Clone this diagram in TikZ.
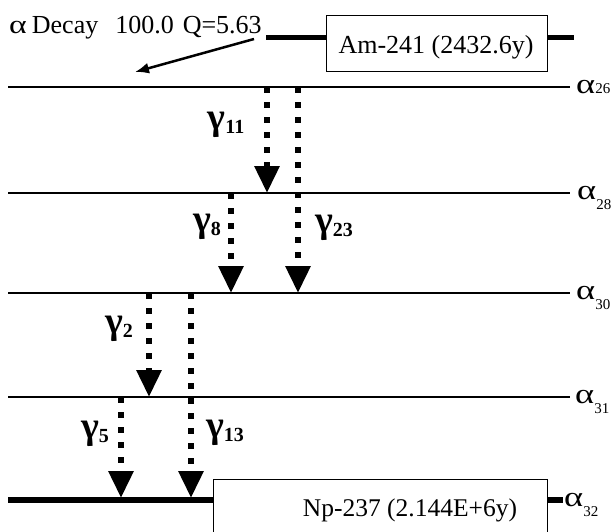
\documentclass[tikz,border=0pt]{standalone}
\usepackage{graphicx}
\usepackage{fontspec}
\setmainfont{Liberation Serif}
\usetikzlibrary{arrows.meta}
\tikzset{
  lvl/.style={line width=2pt},
  gnd/.style={line width=6pt},
  gam/.style={line width=6pt, dash pattern=on 6pt off 9pt,
    -{Triangle[width=24pt,length=27pt]}},
  glab/.style={inner sep=0pt, font=\bfseries\fontsize{38}{38}\selectfont},
  alab/.style={anchor=base west, inner sep=0pt, font=\fontsize{28}{28}\selectfont},
  nuc/.style={draw, line width=1pt, fill=white, inner sep=0pt},
  txt/.style={inner sep=0pt, font=\fontsize{26}{26}\selectfont},
}
% wide alpha, as in the symbol font
\newcommand\walpha{\scalebox{1.3}[1]{α}}
\newcommand\gname[1]{γ\raisebox{-3.5pt}{\fontsize{20}{20}\selectfont #1}}
\newcommand\aname[2]{\walpha\raisebox{#2}{\fontsize{15}{15}\selectfont #1}}
\begin{document}
\begin{tikzpicture}[x=1pt,y=-1pt]
\useasboundingbox (0,0) rectangle (614,531);
\clip (0,0) rectangle (614,531);

% parent level: Am-241
\coordinate (amL) at (266,37);
\coordinate (amR) at (574,37);
\draw[line width=5pt] (amL) -- (amR);
\node[nuc, minimum width=221pt, minimum height=56pt] (am) at (436.5,43) {};
\node[txt, anchor=base] (amtxt) at (436,53) {Am-241 (2432.6y)};

% decay header and arrow
\node[txt, anchor=base west] (dec) at (9,33)
  {\walpha\hspace{5pt}Decay\hspace{17pt}100.0\hspace{9pt}Q=5.63};
\coordinate (qa) at (254,39);
\coordinate (qb) at (135,72);
\draw[line width=2.5pt, -{Latex[length=14pt,width=11pt]}] (qa) -- (qb);

% excited levels of Np-237
\coordinate (a26L) at (8,87);  \coordinate (a26R) at (570,87);
\coordinate (a28L) at (8,193); \coordinate (a28R) at (570,193);
\coordinate (a30L) at (8,293); \coordinate (a30R) at (570,293);
\coordinate (a31L) at (8,397); \coordinate (a31R) at (570,397);
\draw[lvl] (a26L) -- (a26R);
\draw[lvl] (a28L) -- (a28R);
\draw[lvl] (a30L) -- (a30R);
\draw[lvl] (a31L) -- (a31R);
\node[alab] (t26) at (576,93) {\aname{26}{0pt}};
\node[alab] (t28) at (577,199) {\aname{28}{-10pt}};
\node[alab] (t30) at (576,299) {\aname{30}{-10pt}};
\node[alab] (t31) at (575,403) {\aname{31}{-10pt}};

% ground level: Np-237
\coordinate (a32L) at (8,500);
\coordinate (a32R) at (563,500);
\draw[gnd] (a32L) -- (a32R);
\node[nuc, anchor=north west, minimum width=334pt, minimum height=80pt] (np) at (213,479) {};
\node[txt, font=\fontsize{25.5}{25.5}\selectfont] (nptxt) at (410,510) {Np-237 (2.144E+6y)};
\node[alab] (t32) at (564,506) {\aname{32}{-10pt}};

% gamma transitions
\coordinate (g11a) at (267,87);  \coordinate (g11b) at (267,193);
\coordinate (g23a) at (298,87);  \coordinate (g23b) at (298,293);
\coordinate (g8a)  at (231,193); \coordinate (g8b)  at (231,293);
\coordinate (g2a)  at (149,293); \coordinate (g2b)  at (149,397);
\coordinate (g13a) at (191,293); \coordinate (g13b) at (191,498);
\coordinate (g5a)  at (121,397); \coordinate (g5b)  at (121,498);
\draw[gam] (g11a) -- (g11b);
\draw[gam] (g23a) -- (g23b);
\draw[gam] (g8a) -- (g8b);
\draw[gam] (g2a) -- (g2b);
\draw[gam] (g13a) -- (g13b);
\draw[gam] (g5a) -- (g5b);
\node[glab] (l11) at (226,125) {\gname{11}};
\node[glab] (l8)  at (207,227) {\gname{8}};
\node[glab] (l23) at (334,228) {\gname{23}};
\node[glab] (l2)  at (119,329) {\gname{2}};
\node[glab] (l5)  at (95,434)  {\gname{5}};
\node[glab] (l13) at (225,433) {\gname{13}};
\end{tikzpicture}
\end{document}
